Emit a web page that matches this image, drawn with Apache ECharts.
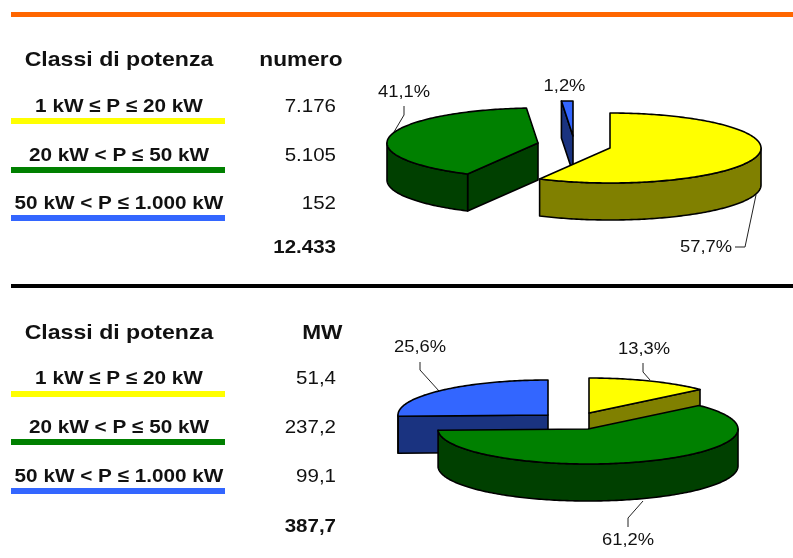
<!DOCTYPE html>
<html>
<head>
<meta charset="utf-8">
<title>Classi di potenza</title>
<script src="https://cdn.jsdelivr.net/npm/echarts@6/dist/echarts.min.js"></script>
<style>
  html, body { margin: 0; padding: 0; background: #fff; }
  #chart { width: 793px; height: 558px; }
</style>
</head>
<body>
<div id="chart"></div>
<script>
// dati
var classLabels = ['1 kW ≤ P ≤ 20 kW', '20 kW < P ≤ 50 kW', '50 kW < P ≤ 1.000 kW'];
var countValues = [7176, 5105, 152];
var countTotal = 12433;
var mwValues = [51.4, 237.2, 99.1];
var mwTotal = 387.7;

// colori
var topColors = ['#ffff00', '#008000', '#3366ff'];
var sideColors = ['#808000', '#004000', '#1a3380'];

var FONT = '"Liberation Sans", Arial, sans-serif';

// centri delle fette esplose (x, y), ordine di disegno e linee guida delle etichette
var countPie = {
  rx: 151, ry: 35, depth: 37,
  centers: [[610, 148], [538, 143], [573, 136]],
  order: [2, 1, 0],
  labels: [[706, 247.5], [404, 92.5], [564.5, 86.5]],
  leaders: [
    [[735, 247], [745, 247], [756, 195]],
    [[404, 106], [404, 115], [391, 137]],
    null
  ]
};
var mwPie = {
  rx: 150, ry: 35, depth: 37,
  centers: [[589, 413], [588, 429], [548, 415]],
  order: [2, 0, 1],
  labels: [[644, 349.5], [628, 540.5], [420, 347.5]],
  leaders: [
    [[643, 363], [643, 372], [650, 380]],
    [[628, 527], [628, 518], [643, 501]],
    [[420, 362], [420, 370], [439, 391]]
  ]
};

function formatCount(n) {
  return String(n).replace(/\B(?=(\d{3})+$)/g, '.');
}
function formatMw(n) {
  return n.toFixed(1).replace('.', ',');
}

function sliceAngles(values) {
  var total = values.reduce(function (a, b) { return a + b; }, 0);
  var sum = 0;
  return values.map(function (v) {
    var from = echarts.number.linearMap(sum, [0, total], [0, 360]);
    sum += v;
    return [from, echarts.number.linearMap(sum, [0, total], [0, 360])];
  });
}

function rimPoint(c, pie, deg, drop) {
  var t = deg * Math.PI / 180;
  return [c[0] + pie.rx * Math.sin(t), c[1] - pie.ry * Math.cos(t) + (drop || 0)];
}

function rim(c, pie, a, b, drop) {
  var pts = [];
  var n = Math.max(2, Math.ceil(Math.abs(b - a)));
  for (var i = 0; i <= n; i++) {
    pts.push(rimPoint(c, pie, a + (b - a) * i / n, drop));
  }
  return pts;
}

function poly(points, fill) {
  return {
    type: 'polygon',
    shape: { points: points },
    style: { fill: fill, stroke: '#000', lineWidth: 1.6, lineJoin: 'round' }
  };
}

function pieSeries(values, pie) {
  var angles = sliceAngles(values);
  return {
    type: 'custom',
    coordinateSystem: 'none',
    silent: true,
    animation: false,
    data: pie.order.map(function (i) { return [i]; }),
    renderItem: function (params, api) {
      var i = api.value(0);
      var a = angles[i][0], b = angles[i][1];
      var c = pie.centers[i];
      var kids = [];
      // pareti radiali, solo quelle rivolte verso chi guarda
      var edges = [];
      if (Math.sin(a * Math.PI / 180) < -1e-6) edges.push(a);
      if (Math.sin(b * Math.PI / 180) > 1e-6) edges.push(b);
      edges.forEach(function (e) {
        var p = rimPoint(c, pie, e);
        kids.push(poly([c, p, [p[0], p[1] + pie.depth], [c[0], c[1] + pie.depth]], sideColors[i]));
      });
      // parete esterna: parte anteriore dell'ellisse
      var wa = Math.max(a, 90), wb = Math.min(b, 270);
      if (wb > wa) {
        kids.push(poly(rim(c, pie, wa, wb, 0).concat(rim(c, pie, wb, wa, pie.depth)), sideColors[i]));
      }
      kids.push(poly([c].concat(rim(c, pie, a, b, 0)), topColors[i]));
      return { type: 'group', children: kids };
    }
  };
}

function text(x, y, str, size, bold, align, sx) {
  return {
    type: 'text',
    x: x, y: y,
    scaleX: sx || 1,
    style: {
      text: str,
      fill: '#111',
      font: (bold ? 'bold ' : '') + size + 'px ' + FONT,
      align: align,
      verticalAlign: 'middle'
    }
  };
}

function bar(y, h, color, x, w) {
  return { type: 'rect', shape: { x: x, y: y, width: w, height: h }, style: { fill: color } };
}

function tableBlock(headerY, rowYs, totalY, barYs, unit, cells, total) {
  var els = [
    text(119, headerY, 'Classi di potenza', 21, true, 'center', 1.1),
    text(342.5, headerY, unit, 21, true, 'right', 1.08)
  ];
  classLabels.forEach(function (label, i) {
    els.push(text(119, rowYs[i], label, 19, true, 'center', 1.09));
    els.push(text(336, rowYs[i], cells[i], 19, false, 'right', 1.08));
    els.push(bar(barYs[i], 6, topColors[i], 11, 214));
  });
  els.push(text(336, totalY, total, 19, true, 'right', 1.08));
  return els;
}

function pieAnnotations(values, pie) {
  var total = values.reduce(function (a, b) { return a + b; }, 0);
  var els = [];
  values.forEach(function (v, i) {
    var pct = (v / total * 100).toFixed(1).replace('.', ',') + '%';
    els.push(text(pie.labels[i][0], pie.labels[i][1], pct, 17, false, 'center', 1.08));
    if (pie.leaders[i]) {
      els.push({
        type: 'polyline',
        shape: { points: pie.leaders[i] },
        style: { stroke: '#222', lineWidth: 1, fill: null }
      });
    }
  });
  return els;
}

var elements = [
  bar(12, 5, '#ff6600', 11, 782),
  bar(284, 4, '#000', 11, 782)
]
  .concat(tableBlock(60, [107, 156, 204], 248, [118, 167, 215], 'numero', countValues.map(formatCount), formatCount(countTotal)))
  .concat(tableBlock(333, [379, 428, 477], 527, [391, 439, 488], 'MW', mwValues.map(formatMw), formatMw(mwTotal)))
  .concat(pieAnnotations(countValues, countPie))
  .concat(pieAnnotations(mwValues, mwPie));

var myChart = echarts.init(document.getElementById('chart'), null, { renderer: 'canvas' });
myChart.setOption({
  backgroundColor: '#fff',
  animation: false,
  graphic: { elements: elements },
  series: [pieSeries(countValues, countPie), pieSeries(mwValues, mwPie)]
});
</script>
</body>
</html>
